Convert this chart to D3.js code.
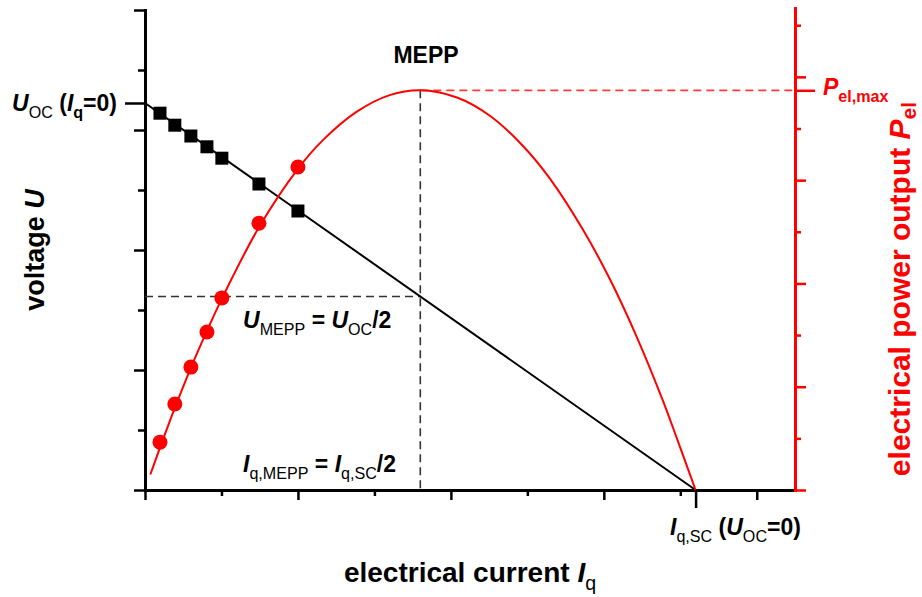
<!DOCTYPE html>
<html>
<head>
<meta charset="utf-8">
<script src="https://cdn.jsdelivr.net/npm/d3@7"></script>
<style>
  body { margin: 0; background: #fff; }
  svg { display: block; }
  text { font-family: "Liberation Sans", Arial, sans-serif; }
</style>
</head>
<body>
<svg id="chart" width="922" height="597"></svg>
<script>
// Characteristic values of the cell (arbitrary axis units)
const U_OC = 6.45;      // open-circuit voltage
const I_SC = 7.2;       // short-circuit current
const I_MEPP = 3.6;     // current at the maximum electrical power point
const U_MEPP = 3.225;   // voltage at the maximum electrical power point
const P_MAX = 11.61;    // maximum electrical power

// Measured voltage points (black squares)
const measCurrent = [0.196, 0.39, 0.60, 0.81, 1.005, 1.49, 2.0];
const measVoltage = [6.28, 6.08, 5.9, 5.72, 5.53, 5.1, 4.65];
// Measured power points (red circles), same currents
const measPower = [1.39, 2.50, 3.57, 4.59, 5.58, 7.75, 9.38];

// Linear U–I characteristic
const lineCurrent = [0, I_SC];
const lineVoltage = [U_OC, 0];

// Power curve P(I)
const curveCurrent = [0.07, 0.2, 0.405, 0.6, 0.81, 1.01, 1.49, 2.0, 2.33, 2.77, 3.2, 3.6,
                      4.08, 4.51, 4.94, 5.3, 5.73, 6.08, 6.43, 6.77, 6.96, 7.2];
const curvePower   = [0.45, 1.25, 2.47, 3.55, 4.62, 5.58, 7.63, 9.33, 10.17, 10.99, 11.47, 11.61,
                      11.40, 10.87, 10.0, 9.03, 7.55, 6.12, 4.45, 2.61, 1.47, 0];

// Tick positions (unlabelled)
const currentMajor = [0, 2, 4, 6, 8];
const currentMinor = [1, 3, 5, 7];
const voltageMajor = [0, 2, 4, 6, 8];
const voltageMinor = [1, 3, 5, 7];
const powerMajor = [0, 3, 6, 9, 12];
const powerMinor = [1.5, 4.5, 7.5, 10.5, 13.5];

const RED = "#ff0000";
const svg = d3.select("#chart");

const x = d3.scaleLinear().domain([0, 8.5]).range([145, 795]);
const yU = d3.scaleLinear().domain([0, 8]).range([490, 10]);
const yP = d3.scaleLinear().domain([0, 14]).range([490, 8]);

// ---- axes ----
function styleAxis(g, color, domainWidth) {
  g.selectAll("path.domain").attr("stroke", color).attr("stroke-width", domainWidth)
    .attr("stroke-linecap", "square");
  g.selectAll(".tick line").attr("stroke", color).attr("stroke-width", 2.5);
  g.selectAll(".tick text").remove();
}
function axisPart(axisFn, scale, values, size, tx, ty, color, keepDomain) {
  const g = svg.append("g").attr("transform", `translate(${tx},${ty})`)
    .call(axisFn(scale).tickValues(values).tickSize(size).tickSizeOuter(0).tickFormat(""));
  styleAxis(g, color, 3);
  if (!keepDomain) g.select("path.domain").remove();
  return g;
}

// left voltage axis
axisPart(d3.axisLeft, yU, voltageMajor, 11, 145, 0, "#000", true);
axisPart(d3.axisLeft, yU, voltageMinor, 7, 145, 0, "#000", false);
axisPart(d3.axisLeft, yU, [U_OC], 20, 145, 0, "#000", false);
// bottom current axis
axisPart(d3.axisBottom, x, currentMajor, 10, 0, 490, "#000", true);
axisPart(d3.axisBottom, x, currentMinor, 6, 0, 490, "#000", false);
axisPart(d3.axisBottom, x, [I_SC], 18, 0, 490, "#000", false);
// right power axis
axisPart(d3.axisRight, yP, powerMajor, 11, 795, 0, RED, true);
axisPart(d3.axisRight, yP, powerMinor, 6, 795, 0, RED, false);
axisPart(d3.axisRight, yP, [P_MAX], 20, 795, 0, RED, false);

// ---- guide lines through the MEPP ----
const guides = svg.append("g").attr("fill", "none");
guides.append("line")
  .attr("x1", x(0)).attr("x2", x(I_MEPP)).attr("y1", yU(U_MEPP)).attr("y2", yU(U_MEPP))
  .attr("stroke", "#333").attr("stroke-width", 1.6).attr("stroke-dasharray", "8,5");
guides.append("line")
  .attr("x1", x(I_MEPP)).attr("x2", x(I_MEPP)).attr("y1", yP(P_MAX)).attr("y2", yU(0))
  .attr("stroke", "#333").attr("stroke-width", 1.6).attr("stroke-dasharray", "8,5");
guides.append("line")
  .attr("x1", x(I_MEPP)).attr("x2", x(8.5)).attr("y1", yP(P_MAX)).attr("y2", yP(P_MAX))
  .attr("stroke", "#ff3b3b").attr("stroke-width", 1.8).attr("stroke-dasharray", "8,5");

// ---- U–I line ----
svg.append("path")
  .datum(d3.zip(lineCurrent, lineVoltage))
  .attr("fill", "none").attr("stroke", "#000").attr("stroke-width", 2)
  .attr("d", d3.line().x(d => x(d[0])).y(d => yU(d[1])));

// ---- power curve ----
svg.append("path")
  .datum(d3.zip(curveCurrent, curvePower))
  .attr("fill", "none").attr("stroke", RED).attr("stroke-width", 2)
  .attr("d", d3.line().curve(d3.curveCatmullRom.alpha(0.5)).x(d => x(d[0])).y(d => yP(d[1])));

// ---- measured points ----
const sq = 13;
svg.append("g").selectAll("rect")
  .data(d3.zip(measCurrent, measVoltage))
  .join("rect")
  .attr("x", d => x(d[0]) - sq / 2).attr("y", d => yU(d[1]) - sq / 2)
  .attr("width", sq).attr("height", sq).attr("fill", "#000");

svg.append("g").selectAll("circle")
  .data(d3.zip(measCurrent, measPower))
  .join("circle")
  .attr("cx", d => x(d[0])).attr("cy", d => yP(d[1]))
  .attr("r", 7.5).attr("fill", RED);

// ---- rich text (italic symbols and subscripts) ----
function rich(parent, px, py, parts, o) {
  const F = o.size, sub = F * 0.7, off = F * (o.subOff || 0.3);
  const t = parent.append("text")
    .attr("x", px).attr("y", py)
    .attr("font-size", F).attr("font-weight", "bold")
    .attr("text-anchor", o.anchor || "start")
    .attr("fill", o.color || "#000");
  if (o.rotate) t.attr("transform", `rotate(${o.rotate},${px},${py})`);
  let shifted = 0;
  parts.forEach(p => {
    const ts = t.append("tspan").text(p.t);
    const want = p.sub ? off : 0;
    if (want !== shifted) { ts.attr("dy", want - shifted); shifted = want; }
    if (p.sub) ts.attr("font-size", sub);
    if (p.it) ts.attr("font-style", "italic");
    if (p.w) ts.attr("font-weight", p.w);
  });
  return t;
}
const labels = svg.append("g");

rich(labels, 117, 111, [
  { t: "U", it: 1 }, { t: "OC", sub: 1, w: "normal" }, { t: " (" },
  { t: "I", it: 1 }, { t: "q", sub: 1 }, { t: "=0)" }
], { size: 23, anchor: "end" });

rich(labels, 426, 63, [{ t: "MEPP" }], { size: 23, anchor: "middle" });

rich(labels, 243, 328, [
  { t: "U", it: 1 }, { t: "MEPP", sub: 1, w: "normal" }, { t: " = " },
  { t: "U", it: 1 }, { t: "OC", sub: 1, w: "normal" }, { t: "/2" }
], { size: 23 });

rich(labels, 243, 472, [
  { t: "I", it: 1 }, { t: "q,MEPP", sub: 1, w: "normal" }, { t: " = " },
  { t: "I", it: 1 }, { t: "q,SC", sub: 1, w: "normal" }, { t: "/2" }
], { size: 23 });

rich(labels, 670, 535, [
  { t: "I", it: 1 }, { t: "q,SC", sub: 1, w: "normal" }, { t: " (" },
  { t: "U", it: 1 }, { t: "OC", sub: 1, w: "normal" }, { t: "=0)" }
], { size: 23 });

rich(labels, 823, 95, [
  { t: "P", it: 1 }, { t: "el,max", sub: 1 }
], { size: 23, color: RED });

// axis titles
rich(labels, 470, 582, [
  { t: "electrical current " }, { t: "I", it: 1 }, { t: "q", sub: 1, w: "normal" }
], { size: 28, anchor: "middle" });

rich(labels, 44, 250, [
  { t: "voltage " }, { t: "U", it: 1 }
], { size: 27, anchor: "middle", rotate: -90 });

rich(labels, 910, 289, [
  { t: "electrical power output " }, { t: "P", it: 1 }, { t: "el", sub: 1 }
], { size: 30, anchor: "middle", rotate: -90, color: RED, subOff: 0.2 });
</script>
</body>
</html>
